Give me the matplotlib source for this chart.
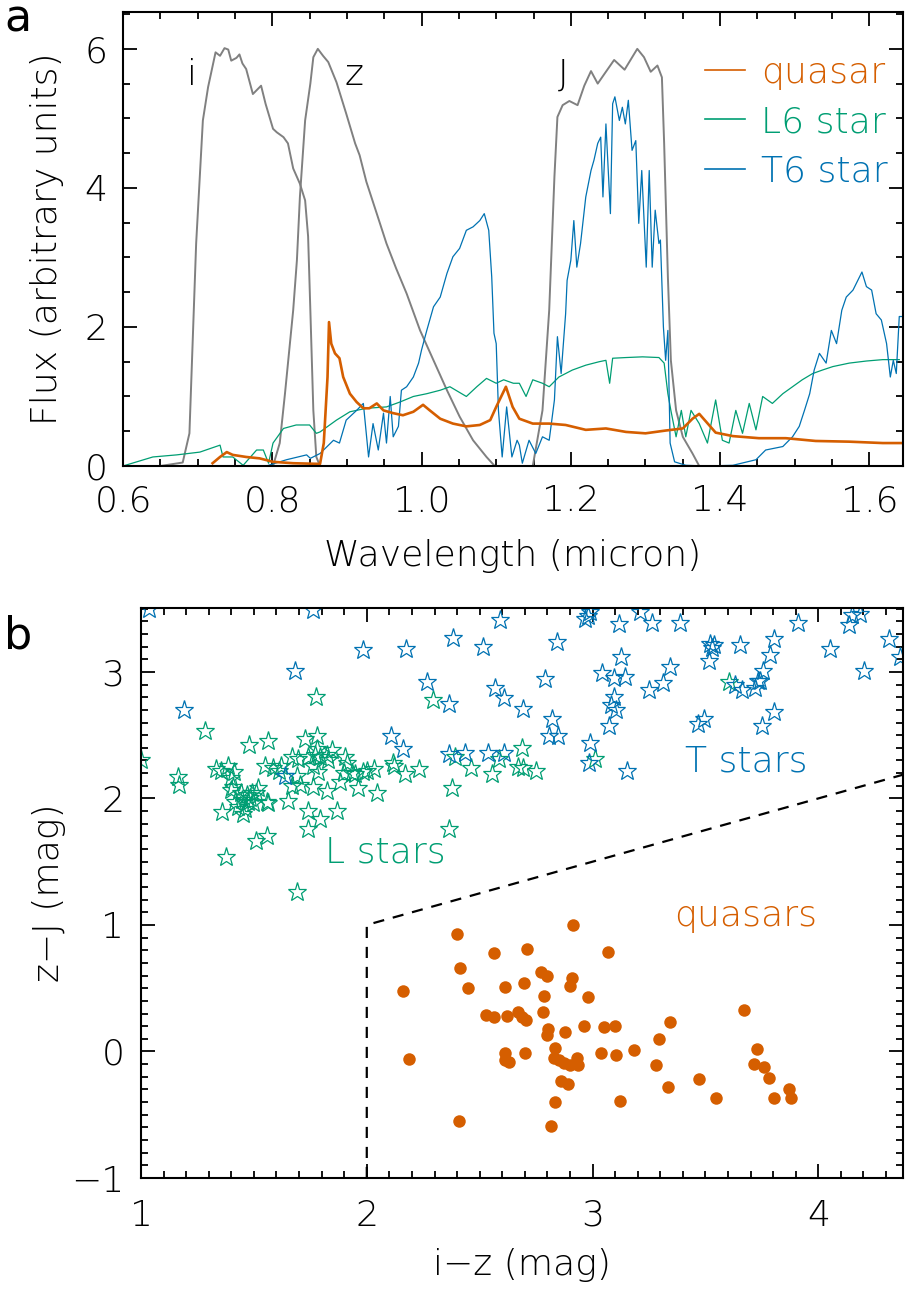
import matplotlib
matplotlib.use("Agg")
import matplotlib.pyplot as plt
from matplotlib.ticker import MultipleLocator

# ---------------- data: panel a (spectra & filters) ----------------
i_wave = [0.60, 0.65, 0.680, 0.689, 0.698, 0.707, 0.714, 0.724, 0.730, 0.736, 0.741, 0.745,
          0.752, 0.756, 0.760, 0.765, 0.774, 0.785, 0.791, 0.801, 0.806, 0.815, 0.821,
          0.828, 0.837, 0.844, 0.848, 0.851, 0.855, 0.859, 0.864, 0.90]
i_resp = [0.0, 0.0, 0.05, 0.47, 3.2, 4.97, 5.45, 5.95, 5.9, 6.01, 5.99, 5.83,
          5.87, 5.92, 5.79, 5.71, 5.35, 5.47, 5.21, 4.85, 4.8, 4.73, 4.64,
          4.28, 4.06, 3.82, 3.3, 2.24, 0.8, 0.13, 0.0, 0.0]

z_wave = [0.78, 0.801, 0.810, 0.817, 0.828, 0.833, 0.837, 0.844, 0.851, 0.855, 0.861, 0.868,
          0.875, 0.886, 0.899, 0.911, 0.917, 0.926, 0.940, 0.953, 0.966, 0.980, 0.998,
          1.016, 1.034, 1.051, 1.069, 1.087, 1.098]
z_resp = [0.0, 0.0, 0.33, 1.04, 2.24, 2.96, 3.87, 4.97, 5.5, 5.88, 6.0, 5.9,
          5.81, 5.52, 5.07, 4.64, 4.47, 4.09, 3.63, 3.2, 2.84, 2.48, 1.95,
          1.52, 1.09, 0.71, 0.37, 0.13, 0.0]

J_wave = [1.149, 1.162, 1.171, 1.178, 1.182, 1.189, 1.198, 1.209, 1.218, 1.227, 1.236,
          1.245, 1.258, 1.272, 1.289, 1.298, 1.307, 1.316, 1.322, 1.325, 1.330, 1.334,
          1.341, 1.350, 1.363, 1.372]
J_resp = [0.0, 0.8, 2.24, 4.16, 5.02, 5.19, 5.25, 5.19, 5.47, 5.68, 5.5,
          5.64, 5.84, 5.7, 6.0, 5.88, 5.67, 5.76, 5.59, 4.64, 2.72, 1.52,
          0.8, 0.42, 0.18, 0.0]

qso_wave = [0.720, 0.730, 0.739, 0.747, 0.765, 0.783, 0.801, 0.828, 0.864, 0.869, 0.874,
            0.876, 0.879, 0.884, 0.890, 0.895, 0.904, 0.913, 0.922, 0.930, 0.940, 0.949,
            0.962, 0.975, 0.989, 1.002, 1.011, 1.025, 1.042, 1.060, 1.078, 1.092, 1.100,
            1.113, 1.122, 1.131, 1.149, 1.171, 1.193, 1.220, 1.247, 1.274, 1.300, 1.327,
            1.350, 1.363, 1.372, 1.381, 1.394, 1.417, 1.452, 1.488, 1.528, 1.573, 1.618, 1.65]
qso_flux = [0.04, 0.13, 0.20, 0.16, 0.13, 0.11, 0.06, 0.04, 0.03, 0.33, 1.28,
            2.07, 1.76, 1.62, 1.55, 1.28, 1.04, 0.92, 0.83, 0.83, 0.90, 0.80,
            0.76, 0.73, 0.78, 0.88, 0.80, 0.68, 0.61, 0.57, 0.59, 0.66, 0.85,
            1.14, 0.85, 0.68, 0.61, 0.61, 0.59, 0.52, 0.54, 0.49, 0.47, 0.51,
            0.54, 0.68, 0.75, 0.64, 0.48, 0.43, 0.40, 0.40, 0.36, 0.35, 0.33, 0.33]

L6_wave = [0.600, 0.640, 0.672, 0.703, 0.730, 0.734, 0.747, 0.761, 0.779, 0.788, 0.795,
           0.801, 0.815, 0.832, 0.850, 0.859, 0.864, 0.886, 0.904, 0.926, 0.953, 0.971,
           0.989, 1.007, 1.025, 1.038, 1.060, 1.074, 1.087, 1.100, 1.110, 1.123, 1.131,
           1.140, 1.149, 1.162, 1.171, 1.184, 1.202, 1.220, 1.238, 1.247, 1.252, 1.256,
           1.274, 1.296, 1.318, 1.325, 1.330, 1.334, 1.341, 1.348, 1.354, 1.361, 1.372,
           1.383, 1.394, 1.403, 1.412, 1.421, 1.430, 1.439, 1.448, 1.457, 1.470, 1.484,
           1.497, 1.510, 1.524, 1.537, 1.551, 1.573, 1.596, 1.618, 1.640]
L6_flux = [0.0, 0.13, 0.16, 0.20, 0.30, 0.13, 0.13, 0.01, 0.23, 0.23, 0.04,
           0.33, 0.54, 0.59, 0.59, 0.47, 0.49, 0.66, 0.78, 0.83, 0.85, 0.92,
           1.00, 1.04, 1.09, 1.14, 1.00, 1.14, 1.26, 1.19, 1.24, 1.19, 1.19,
           1.00, 1.24, 1.19, 1.14, 1.28, 1.38, 1.45, 1.50, 1.52, 1.19, 1.55,
           1.56, 1.57, 1.56, 1.48, 1.04, 0.80, 0.42, 0.80, 0.42, 0.80, 0.61,
           0.33, 0.95, 0.37, 0.33, 0.80, 0.47, 0.90, 0.52, 1.00, 0.90, 1.04,
           1.14, 1.24, 1.33, 1.38, 1.43, 1.48, 1.51, 1.53, 1.53]

T6_wave = [0.600, 0.750, 0.792, 0.819, 0.846, 0.851, 0.864, 0.882, 0.890, 0.899, 0.913,
           0.922, 0.929, 0.935, 0.942, 0.949, 0.953, 0.958, 0.962, 0.969, 0.973, 0.980,
           0.989, 0.996, 1.000, 1.007, 1.016, 1.025, 1.034, 1.042, 1.051, 1.060, 1.069,
           1.078, 1.084, 1.090, 1.094, 1.097, 1.100, 1.103, 1.108, 1.114, 1.121, 1.128,
           1.131, 1.135, 1.144, 1.153, 1.162, 1.171, 1.178, 1.182, 1.187, 1.193, 1.195,
           1.200, 1.204, 1.208, 1.213, 1.220, 1.227, 1.231, 1.236, 1.240, 1.243, 1.247,
           1.253, 1.256, 1.259, 1.265, 1.269, 1.273, 1.277, 1.282, 1.287, 1.291, 1.295,
           1.301, 1.305, 1.309, 1.313, 1.318, 1.320, 1.324, 1.327, 1.330, 1.333, 1.339,
           1.354, 1.381, 1.417, 1.448, 1.461, 1.484, 1.497, 1.506, 1.513, 1.520, 1.526,
           1.533, 1.542, 1.549, 1.556, 1.563, 1.569, 1.578, 1.590, 1.596, 1.603, 1.609,
           1.616, 1.623, 1.628, 1.632, 1.636, 1.640, 1.645]
T6_flux = [0.0, 0.0, 0.0, 0.09, 0.16, 0.11, 0.18, 0.37, 0.33, 0.66, 0.80,
           0.90, 0.13, 0.61, 0.23, 0.76, 0.33, 1.00, 0.42, 0.57, 1.09, 1.14,
           1.28, 1.48, 1.67, 1.95, 2.29, 2.43, 2.77, 3.01, 3.13, 3.39, 3.44,
           3.53, 3.63, 3.39, 2.72, 1.91, 1.76, 0.80, 0.13, 0.85, 0.13, 0.37,
           0.30, 0.04, 0.37, 0.18, 0.42, 0.37, 0.95, 1.86, 1.33, 2.19, 2.67,
           2.96, 3.53, 2.86, 3.20, 3.87, 4.25, 4.40, 4.64, 4.73, 3.87, 4.92,
           3.63, 5.21, 5.31, 4.97, 5.16, 4.92, 5.26, 4.54, 4.68, 3.49, 4.25,
           2.86, 4.25, 2.86, 3.68, 3.20, 3.25, 2.00, 1.52, 1.95, 0.33, 0.06,
           0.01, 0.0, 0.01, 0.09, 0.23, 0.28, 0.42, 0.57, 0.80, 1.04, 1.38,
           1.62, 1.48, 1.95, 1.76, 2.24, 2.43, 2.53, 2.79, 2.58, 2.53, 2.19,
           2.10, 1.76, 1.28, 1.52, 1.33, 2.15, 2.15]

filter_names = ["i", "z", "J"]
filter_label_x = [0.692, 0.910, 1.189]
filter_label_y = [5.63, 5.63, 5.63]

# ---------------- data: panel b (colour-colour) ----------------
L_iz = [1.00, 1.162, 1.170, 1.284, 1.48, 1.564, 1.332, 1.354, 1.387, 1.413, 1.40, 1.406,
        1.40, 1.443, 1.468, 1.49, 1.52, 1.51, 1.416, 1.446, 1.475, 1.498, 1.43, 1.46,
        1.453, 1.357, 1.557, 1.564, 1.483, 1.51, 1.557, 1.377, 1.547, 1.586, 1.62, 1.61,
        1.668, 1.697, 1.727, 1.778, 1.741, 1.778, 1.77, 1.793, 1.823, 1.845, 1.83, 1.763,
        1.786, 1.69, 1.668, 1.705, 1.763, 1.823, 1.653, 1.739, 1.793, 1.867, 1.739, 1.693,
        1.775, 1.904, 1.911, 1.90, 1.882, 1.933, 1.96, 1.985, 2.00, 2.03, 2.047, 2.118,
        2.12, 2.17, 2.233, 2.295, 2.377, 2.365, 2.39, 2.46, 2.554, 2.586, 2.687, 2.67,
        2.694, 2.75, 3.009, 3.603, 1.948]
L_zJ = [2.30, 2.17, 2.11, 2.53, 2.42, 2.45, 2.23, 2.22, 2.26, 2.21, 2.16, 2.09,
        2.07, 2.04, 2.03, 2.04, 2.08, 2.04, 1.97, 1.99, 1.97, 1.96, 1.93, 1.92,
        1.88, 1.89, 1.97, 1.96, 2.00, 1.66, 1.70, 1.54, 2.26, 2.24, 2.26, 2.22,
        2.33, 2.31, 2.47, 2.49, 2.33, 2.39, 2.34, 2.33, 2.34, 2.38, 2.30, 2.26,
        2.21, 2.18, 2.10, 2.11, 2.09, 2.06, 1.98, 1.90, 1.84, 1.90, 1.76, 1.26,
        2.80, 2.33, 2.28, 2.20, 2.13, 2.20, 2.08, 2.21, 2.22, 2.23, 2.04, 2.28,
        2.26, 2.19, 2.23, 2.78, 2.08, 1.76, 2.33, 2.24, 2.19, 2.31, 2.40, 2.25,
        2.24, 2.22, 2.31, 2.92, 2.19]

T_iz = [1.19, 1.682, 1.76, 1.035, 1.985, 1.638, 2.173, 2.38, 2.514, 2.588, 2.266, 2.365,
        2.566, 2.606, 2.694, 2.106, 2.16, 2.366, 2.436, 2.539, 2.606, 2.842, 2.79, 2.822,
        2.805, 2.849, 2.967, 2.982, 2.99, 3.115, 3.211, 3.263, 3.388, 3.91, 3.127, 3.044,
        3.097, 3.145, 3.344, 3.314, 3.252, 3.097, 3.083, 3.103, 3.074, 2.99, 2.985, 3.152,
        3.521, 3.54, 3.53, 3.517, 3.651, 3.805, 3.787, 3.757, 3.732, 3.72, 3.662, 3.632,
        3.802, 3.75, 3.467, 3.492, 4.053, 4.204, 4.134, 4.149, 4.186, 4.312, 4.363, 3.743]
T_zJ = [2.70, 3.01, 3.49, 3.50, 3.17, 2.18, 3.18, 3.27, 3.20, 3.41, 2.92, 2.75,
        2.87, 2.79, 2.71, 2.49, 2.39, 2.35, 2.36, 2.36, 2.36, 3.24, 2.94, 2.63,
        2.49, 2.49, 3.42, 3.44, 3.47, 3.38, 3.47, 3.39, 3.39, 3.39, 3.12, 2.99,
        2.95, 2.96, 3.04, 2.91, 2.86, 2.80, 2.74, 2.70, 2.57, 2.44, 2.28, 2.22,
        3.22, 3.21, 3.19, 3.09, 3.21, 3.26, 3.13, 3.01, 2.93, 2.87, 2.86, 2.90,
        2.68, 2.57, 2.59, 2.63, 3.18, 3.01, 3.37, 3.45, 3.46, 3.26, 3.12, 2.93]

Q_iz = [2.914, 2.40, 2.162, 2.186, 2.413, 2.449, 2.562, 2.71, 3.07, 2.773, 2.80, 2.612,
        2.698, 2.786, 2.91, 2.90, 2.98, 2.527, 2.562, 2.621, 2.671, 2.687, 2.707, 2.78,
        2.804, 2.80, 2.879, 2.961, 3.052, 3.099, 3.341, 3.294, 3.669, 2.61, 2.612, 2.632,
        2.70, 2.832, 2.828, 2.851, 2.875, 2.90, 2.933, 2.934, 3.036, 3.106, 3.183, 3.279,
        3.333, 3.47, 3.545, 3.728, 3.717, 3.759, 3.78, 3.803, 3.869, 3.877, 2.859, 2.89,
        2.832, 3.122, 2.41, 2.814]
Q_zJ = [1.00, 0.93, 0.48, -0.06, 0.66, 0.50, 0.78, 0.81, 0.79, 0.63, 0.60, 0.51,
        0.54, 0.44, 0.58, 0.52, 0.43, 0.29, 0.27, 0.28, 0.31, 0.27, 0.25, 0.31,
        0.18, 0.13, 0.15, 0.20, 0.19, 0.20, 0.23, 0.10, 0.33, -0.01, -0.07, -0.08,
        -0.01, 0.03, -0.05, -0.07, -0.09, -0.11, -0.05, -0.11, -0.01, -0.03, 0.01, -0.11,
        -0.28, -0.22, -0.37, 0.02, -0.10, -0.12, -0.21, -0.37, -0.30, -0.37, -0.23, -0.26,
        -0.40, -0.39, -0.55, -0.59]

cut_x = [2.0, 2.0, 4.5]
cut_y = [-1.0, 1.0, 2.25]

# ---------------- style ----------------
ORANGE = "#D55E00"
GREEN = "#009E73"
BLUE = "#0072B2"
GRAY = "#808080"
plt.rcParams["font.family"] = ["DejaVu Sans"]
plt.rcParams["font.weight"] = "light"
plt.rcParams["axes.labelweight"] = "light"
FS = 26

fig = plt.figure(figsize=(9.05, 12.89), dpi=100)


def style_axes(ax, xmaj, xmin, ymaj, ymin, xpad, ypad):
    ax.xaxis.set_major_locator(MultipleLocator(xmaj))
    ax.xaxis.set_minor_locator(MultipleLocator(xmin))
    ax.yaxis.set_major_locator(MultipleLocator(ymaj))
    ax.yaxis.set_minor_locator(MultipleLocator(ymin))
    ax.tick_params(which="both", direction="in", top=True, right=True, width=1.3,
                   labelsize=FS)
    ax.tick_params(which="major", length=10)
    ax.tick_params(which="minor", length=5)
    ax.tick_params(axis="x", pad=xpad)
    ax.tick_params(axis="y", pad=ypad)
    for s in ax.spines.values():
        s.set_linewidth(1.5)


# ---------------- panel a ----------------
axa = fig.add_axes([123 / 905, 1 - 466 / 1289, 780 / 905, 454 / 1289])
axa.plot(i_wave, i_resp, color=GRAY, lw=1.4)
axa.plot(z_wave, z_resp, color=GRAY, lw=1.4)
axa.plot(J_wave, J_resp, color=GRAY, lw=1.4)
axa.plot(L6_wave, L6_flux, color=GREEN, lw=0.9, label="L6 star")
axa.plot(T6_wave, T6_flux, color=BLUE, lw=0.9, label="T6 star")
axa.plot(qso_wave, qso_flux, color=ORANGE, lw=1.9, label="quasar")
for name, fx, fy in zip(filter_names, filter_label_x, filter_label_y):
    axa.text(fx, fy, name, fontsize=FS, ha="center", va="center")
axa.set_xlim(0.6, 1.645)
axa.set_ylim(0, 6.53)
style_axes(axa, 0.2, 0.05, 2, 0.5, 13, 11)
axa.xaxis.set_major_formatter(plt.FuncFormatter(lambda v, p: f"{v:.1f}"))
axa.set_xlabel("Wavelength (micron)", fontsize=FS)
axa.set_ylabel("Flux (arbitrary units)", fontsize=FS)
axa.xaxis.set_label_coords(0.5, -0.16)
axa.yaxis.set_label_coords(-0.075, 0.5)
h, l = axa.get_legend_handles_labels()
order = [2, 0, 1]
leg = axa.legend([h[k] for k in order], [l[k] for k in order], loc="upper right",
                 bbox_to_anchor=(1.022, 0.975), frameon=False, fontsize=FS,
                 handlelength=1.1, handletextpad=0.45, labelspacing=0.42,
                 labelcolor="linecolor")
for ln in leg.get_lines():
    ln.set_linewidth(1.2)

# ---------------- panel b ----------------
axb = fig.add_axes([141 / 905, 1 - 1178 / 1289, 762 / 905, 570 / 1289])
axb.plot(cut_x, cut_y, color="black", lw=1.6, ls=(0, (5, 4)))
axb.plot(L_iz, L_zJ, ls="none", marker="*", ms=14, mfc="none", mec=GREEN, mew=0.9)
axb.plot(T_iz, T_zJ, ls="none", marker="*", ms=14, mfc="none", mec=BLUE, mew=0.9)
axb.plot(Q_iz, Q_zJ, ls="none", marker="o", ms=9, mfc=ORANGE, mec=ORANGE, mew=0)
axb.text(2.08, 1.57, "L stars", color=GREEN, fontsize=FS, ha="center", va="center")
axb.text(3.68, 2.29, "T stars", color=BLUE, fontsize=FS, ha="center", va="center")
axb.text(3.68, 1.07, "quasars", color=ORANGE, fontsize=FS, ha="center", va="center")
axb.set_xlim(1, 4.375)
axb.set_ylim(-1, 3.505)
style_axes(axb, 1, 0.1, 1, 0.1, 15, 12)
axb.yaxis.set_major_formatter(plt.FuncFormatter(lambda v, p: f"{int(round(v))}".replace("-", "\u2212")))
axb.set_xlabel("i\u2212z (mag)", fontsize=FS)
axb.set_ylabel("z\u2212J (mag)", fontsize=FS)
axb.xaxis.set_label_coords(0.5, -0.122)
axb.yaxis.set_label_coords(-0.099, 0.5)

fig.text(18 / 905, 1 - 19 / 1289, "a", fontsize=32, ha="center", va="center",
         fontweight="normal")
fig.text(18 / 905, 1 - 636 / 1289, "b", fontsize=32, ha="center", va="center",
         fontweight="normal")

fig.savefig("out.png", dpi=100)
